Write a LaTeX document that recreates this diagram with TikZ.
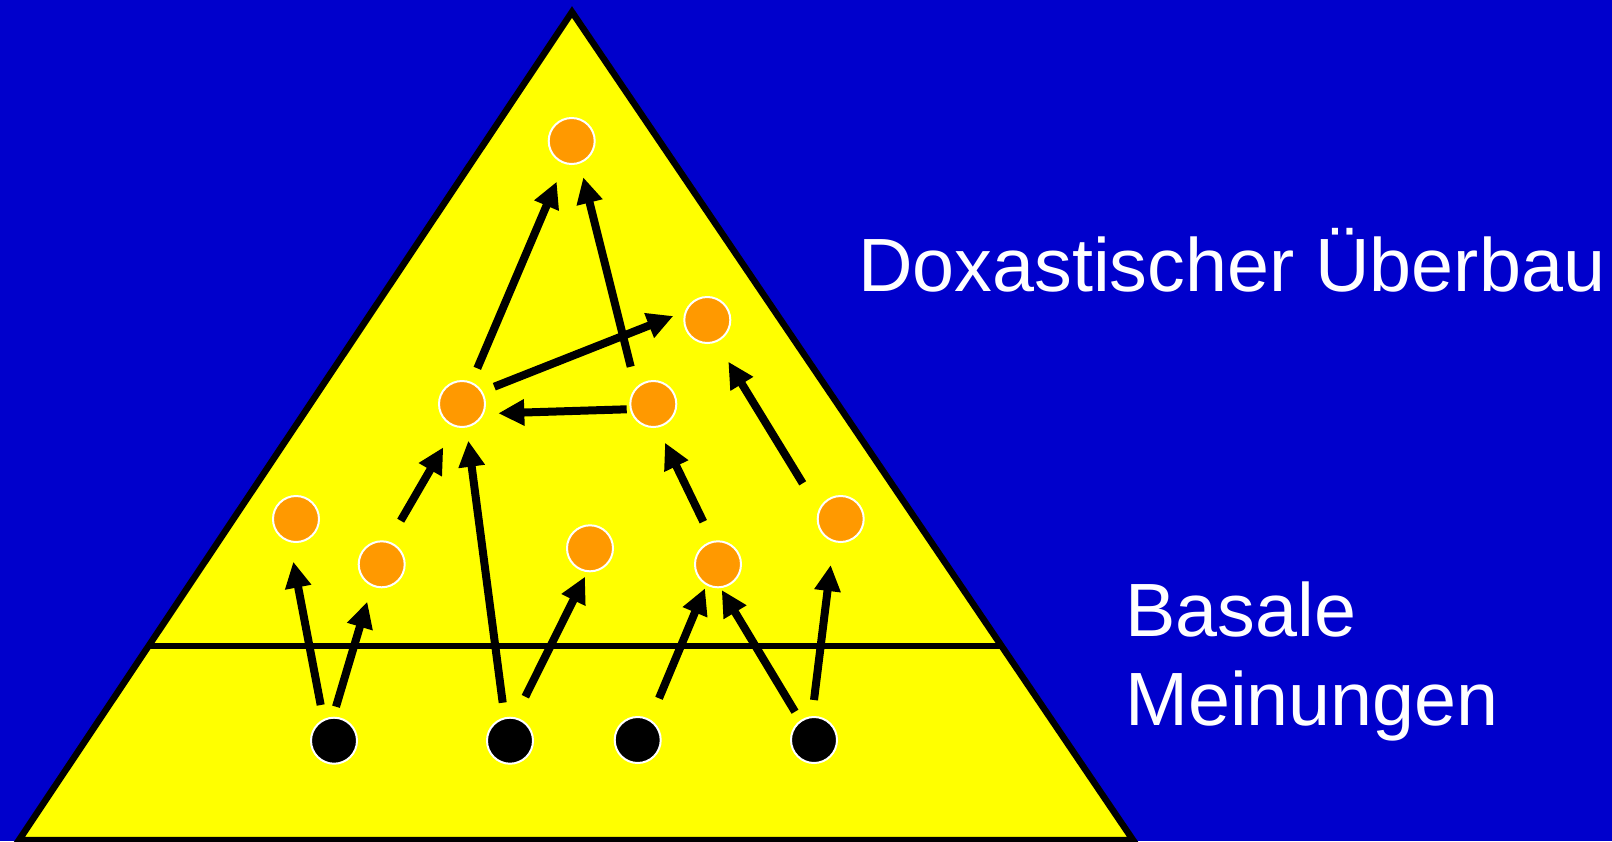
\documentclass[tikz,border=0pt]{standalone}
\usepackage{fontspec}
\setmainfont{Liberation Sans}
\usetikzlibrary{arrows.meta,calc}
\definecolor{bgblue}{RGB}{0,0,204}
\definecolor{pyellow}{RGB}{255,255,0}
\definecolor{dorange}{RGB}{255,153,0}
\tikzset{
  belief/.style={circle,draw=white,line width=2pt,minimum size=46pt,inner sep=0pt,fill=dorange},
  basal/.style={circle,draw=white,line width=2pt,minimum size=46pt,inner sep=0pt,fill=black},
  arr/.style={line width=8pt,-{Triangle[length=26pt,width=25pt]}},
  lbl/.style={text=white,anchor=base west,inner sep=0pt,font=\fontsize{75.5}{89}\selectfont}
}
\begin{document}
\begin{tikzpicture}[x=1pt,y=-1pt]
\useasboundingbox (0,0) rectangle (1612,841);
\fill[bgblue] (0,0) rectangle (1612,841);
\draw[fill=pyellow,line width=6.5pt,line join=miter] (572,12) -- (1133,840) -- (19,840) -- cycle;
\draw[line width=6.5pt] (150,646) -- (1000,646);

\node[belief] (T) at (571.7,141) {};
\node[belief] (R) at (707.3,320) {};
\node[belief] (M1) at (462,404) {};
\node[belief] (M2) at (653.3,404) {};
\node[belief] (O1) at (296,519) {};
\node[belief] (O2) at (381.7,564.3) {};
\node[belief] (O3) at (590,548.3) {};
\node[belief] (O4) at (718,564.3) {};
\node[belief] (O5) at (840.7,519) {};
\node[basal] (B1) at (334,740.7) {};
\node[basal] (B2) at (510,740.7) {};
\node[basal] (B3) at (637.7,740) {};
\node[basal] (B4) at (814,740) {};

\draw[arr] ($(B1)+(-13.3,-35.7)$) -- ($(O1)+(-2.7,42.7)$);
\draw[arr] ($(B1)+(2,-34)$) -- ($(O2)+(-14.4,37.4)$);
\draw[arr] ($(B2)+(-7.3,-38)$) -- ($(M1)+(6.3,36.7)$);
\draw[arr] ($(B2)+(15.3,-44)$) -- ($(O3)+(-5,28.4)$);
\draw[arr] ($(B3)+(21.3,-41.7)$) -- ($(O4)+(-13,24)$);
\draw[arr] ($(B4)+(-19,-28.3)$) -- ($(O4)+(3.7,25.7)$);
\draw[arr] ($(B4)+(0,-40)$) -- ($(O5)+(-10,46)$);
\draw[arr] ($(O2)+(19,-43.6)$) -- ($(M1)+(-18.7,43.3)$);
\draw[arr] ($(O4)+(-14.7,-42.6)$) -- ($(M2)+(11.7,38.7)$);
\draw[arr] ($(O5)+(-38,-35.7)$) -- ($(R)+(21,41.7)$);
\draw[arr] ($(M1)+(15.3,-35.7)$) -- ($(T)+(-15,40.7)$);
\draw[arr] ($(M2)+(-22.6,-37.3)$) -- ($(T)+(11.6,36.3)$);
\draw[arr] ($(M1)+(32.3,-17.3)$) -- ($(R)+(-34,-4)$);
\draw[arr] ($(M2)+(-26.6,5.3)$) -- ($(M1)+(36.3,9.3)$);

\node[lbl] (dox) at (858,291) {Doxastischer Überbau};
\node[lbl] (bas) at (1125,636) {Basale};
\node[lbl] (mei) at (1125,725) {Meinungen};
\end{tikzpicture}
\end{document}
